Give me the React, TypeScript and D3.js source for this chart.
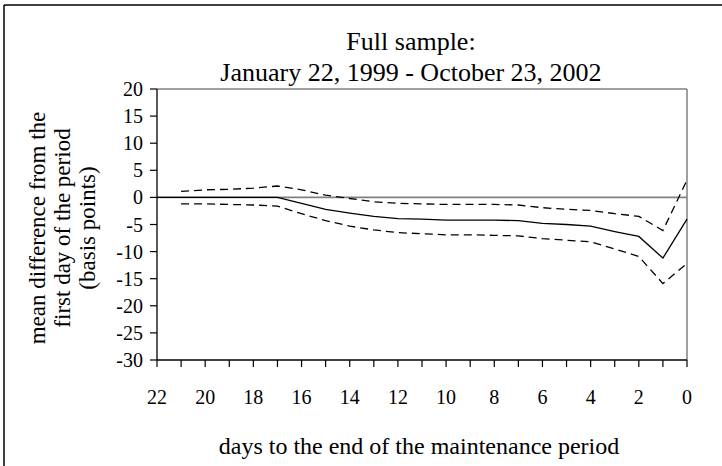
import React from "react";
import * as d3 from "d3";

const days = [22, 21, 20, 19, 18, 17, 16, 15, 14, 13, 12, 11, 10, 9, 8, 7, 6, 5, 4, 3, 2, 1, 0];
const meanDiff = [0, 0, 0, 0, 0, 0, -1.1, -2.2, -2.9, -3.5, -3.9, -4.0, -4.2, -4.2, -4.2, -4.3, -4.8, -5.0, -5.3, -6.3, -7.2, -11.2, -4.0];
const upperBand = [null, 1.1, 1.4, 1.5, 1.7, 2.1, 1.4, 0.4, -0.2, -0.8, -1.1, -1.2, -1.3, -1.3, -1.3, -1.4, -1.9, -2.2, -2.4, -3.0, -3.5, -6.1, 3.2];
const lowerBand = [null, -1.2, -1.2, -1.3, -1.4, -1.6, -3.0, -4.3, -5.3, -6.0, -6.5, -6.7, -6.9, -6.9, -7.0, -7.1, -7.6, -7.9, -8.2, -9.5, -10.9, -15.9, -12.2];
const yTicks = [20, 15, 10, 5, 0, -5, -10, -15, -20, -25, -30];
const xTickLabels = [22, 20, 18, 16, 14, 12, 10, 8, 6, 4, 2, 0];
const titleLines = ["Full sample:", "January 22, 1999 - October 23, 2002"];
const yLabelLines = ["mean difference from the", "first day of the period", "(basis points)"];
const xLabel = "days to the end of the maintenance period";

const W = 722;
const H = 466;
const L = 157, R = 687, T = 89, B = 360;
const FONT = '"Liberation Serif"';

export default function App() {
  const x = d3.scaleLinear().domain([22, 0]).range([L, R]);
  const y = d3.scaleLinear().domain([-30, 20]).range([B, T]);

  const mk = (vals: (number | null)[]) =>
    d3
      .line<number>()
      .defined((_, i) => vals[i] !== null)
      .x((d) => x(d))
      .y((_, i) => y(vals[i] as number))(days);

  const allTicks = d3.range(0, 23);
  const ts = { fontFamily: FONT };

  return (
    <svg width={W} height={H} style={{ position: "absolute", left: 0, top: 0, background: "#fff" }}>
      <rect x={0} y={0} width={W} height={H} fill="#fff" />
      {/* outer frame */}
      <line x1={4} y1={5} x2={W} y2={5} stroke="#000" strokeWidth={1.5} />
      <line x1={4} y1={5} x2={4} y2={H} stroke="#000" strokeWidth={1.5} />

      {/* title */}
      {titleLines.map((t, i) => (
        <text key={t} style={ts} x={411} y={50 + i * 31} textAnchor="middle" fontSize={26} fill="#000">
          {t}
        </text>
      ))}

      {/* plot border */}
      <line x1={L} y1={T} x2={R} y2={T} stroke="#808080" strokeWidth={1.5} />
      <line x1={R} y1={T} x2={R} y2={B} stroke="#808080" strokeWidth={1.5} />

      {/* zero line */}
      <line x1={L} y1={y(0)} x2={R} y2={y(0)} stroke="#808080" strokeWidth={1.6} />

      {/* series */}
      <path d={mk(upperBand) || ""} fill="none" stroke="#000" strokeWidth={1.3} strokeDasharray="8,5" />
      <path d={mk(lowerBand) || ""} fill="none" stroke="#000" strokeWidth={1.3} strokeDasharray="8,5" />
      <path d={mk(meanDiff) || ""} fill="none" stroke="#000" strokeWidth={1.3} />

      {/* y axis */}
      <line x1={L} y1={T} x2={L} y2={B} stroke="#000" strokeWidth={1.3} />
      {yTicks.map((t) => (
        <g key={t}>
          <line x1={L - 7} y1={y(t)} x2={L} y2={y(t)} stroke="#000" strokeWidth={1.2} />
          <text style={ts} x={L - 14} y={y(t)} dy="0.35em" textAnchor="end" fontSize={20} fill="#000">
            {t}
          </text>
        </g>
      ))}

      {/* x axis */}
      <line x1={L} y1={B} x2={R} y2={B} stroke="#000" strokeWidth={1.3} />
      {allTicks.map((t) => (
        <line key={t} x1={x(t)} y1={B} x2={x(t)} y2={B + 7} stroke="#000" strokeWidth={1.2} />
      ))}
      {xTickLabels.map((t) => (
        <text style={ts} key={t} x={x(t)} y={397} dy="0.35em" textAnchor="middle" fontSize={20} fill="#000">
          {t}
        </text>
      ))}

      {/* x label */}
      <text style={ts} x={419} y={446} dy="0.35em" textAnchor="middle" fontSize={24} fill="#000">
        {xLabel}
      </text>

      {/* y label */}
      <g transform="translate(62,228) rotate(-90)">
        {yLabelLines.map((t, i) => (
          <text style={ts} key={t} x={0} y={(i - 1) * 25} dy="0.35em" textAnchor="middle" fontSize={23} fill="#000">
            {t}
          </text>
        ))}
      </g>
    </svg>
  );
}
